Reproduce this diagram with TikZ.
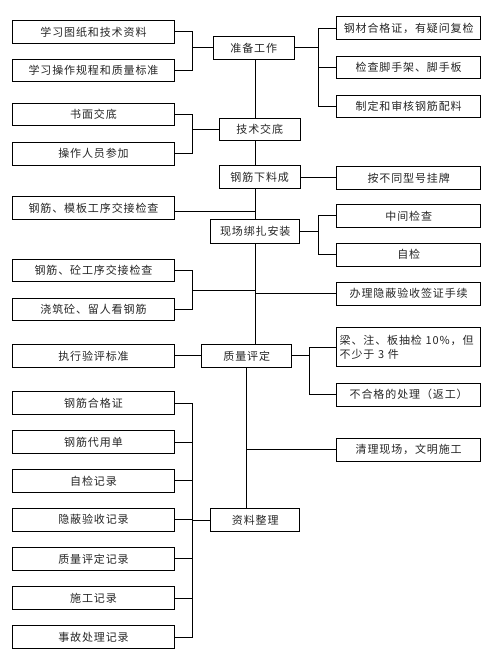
\documentclass[tikz,border=0pt]{standalone}
\usepackage{fontspec}
\newfontfamily\cjk[LetterSpace=8]{Noto Sans CJK SC}
\usetikzlibrary{calc}
\begin{document}
\begin{tikzpicture}[x=1pt,y=-1pt,
  box/.style={draw=black,line width=1pt,fill=white,inner sep=0pt,
    minimum height=22.6pt,font=\cjk\fontsize{11}{14}\selectfont,text=black!85},
  lbox/.style={box,minimum width=161.6pt},
  rbox/.style={box,minimum width=144pt},
  conn/.style={line width=1pt,draw=black}]
\useasboundingbox (0,0) rectangle (488,655);
\coordinate (sp) at (255,0);
% left column
\node[lbox] (L1) at (93.5,32) {学习图纸和技术资料};
\node[lbox] (L2) at (93.5,70.7) {学习操作规程和质量标准};
\node[lbox] (L3) at (93.5,114.7) {书面交底};
\node[lbox] (L4) at (93.5,153.8) {操作人员参加};
\node[lbox] (L5) at (93.5,207.8) {钢筋、模板工序交接检查};
\node[lbox] (L6) at (93.5,270.5) {钢筋、砼工序交接检查};
\node[lbox] (L7) at (93.5,309.5) {浇筑砼、留人看钢筋};
\node[lbox] (L8) at (93.5,355.8) {执行验评标准};
\node[lbox] (L9) at (93.5,403) {钢筋合格证};
\node[lbox] (L10) at (93.5,442) {钢筋代用单};
\node[lbox] (L11) at (93.5,480.8) {自检记录};
\node[lbox] (L12) at (93.5,519.7) {隐蔽验收记录};
\node[lbox] (L13) at (93.5,558.8) {质量评定记录};
\node[lbox] (L14) at (93.5,598) {施工记录};
\node[lbox] (L15) at (93.5,637) {事故处理记录};
% middle column
\node[box,minimum width=81pt] (M1) at (253.8,48) {准备工作};
\node[box,minimum width=80.7pt] (M2) at (259.7,129.7) {技术交底};
\node[box,minimum width=80.7pt] (M3) at (259.7,177.2) {钢筋下料成};
\node[box,minimum width=89.3pt,minimum height=24pt] (M4) at (255.3,231.3) {现场绑扎安装};
\node[box,minimum width=90pt] (M5) at (246.7,355.8) {质量评定};
\node[box,minimum width=89.3pt,minimum height=23.4pt] (M6) at (255.3,520) {资料整理};
% right column
\node[rbox] (R1) at (408.7,28.3) {钢材合格证，有疑问复检};
\node[rbox] (R2) at (408.7,67.7) {检查脚手架、脚手板};
\node[rbox] (R3) at (408.7,106.5) {制定和审核钢筋配料};
\node[rbox] (R4) at (408.7,178) {按不同型号挂牌};
\node[rbox] (R5) at (408.7,215.8) {中间检查};
\node[rbox] (R6) at (408.7,254.7) {自检};
\node[rbox] (R7) at (408.7,293.8) {办理隐蔽验收签证手续};
\node[rbox,minimum height=39.4pt,align=left,text width=138pt,inner xsep=3pt] (R8) at (408.7,347) {梁、注、板抽检 10\%，但\\不少于 3 件};
\node[rbox] (R9) at (408.7,394.7) {不合格的处理（返工）};
\node[rbox] (R10) at (408.7,449.7) {清理现场，文明施工};
\coordinate (j1) at ($(L6.east)!0.5!(L7.east)$);
% connectors
\draw[conn] (L1.east) -- ++(18,0) |- (M1.west);
\draw[conn] (L2.east) -- ++(18,0) |- (M1.west);
\draw[conn] (M1.east) -- ++(24,0) |- (R1.west);
\draw[conn] (M1.east) -- ++(24,0) |- (R2.west);
\draw[conn] (M1.east) -- ++(24,0) |- (R3.west);
\draw[conn] (M1.south -| sp) -- (M2.north -| sp);
\draw[conn] (L3.east) -- ++(18,0) |- (M2.west);
\draw[conn] (L4.east) -- ++(18,0) |- (M2.west);
\draw[conn] (M2.south -| sp) -- (M3.north -| sp);
\draw[conn] (M3.east) -- (R4.west |- M3.east);
\draw[conn] (M3.south -| sp) -- (M4.north -| sp);
\draw[conn] ([yshift=-3.5pt]L5.east) -- ([yshift=-3.5pt]L5.east -| sp);
\draw[conn] (M4.east) -- ++(18.3,0) |- (R5.west);
\draw[conn] (M4.east) -- ++(18.3,0) |- (R6.west);
\draw[conn] (M4.south -| sp) -- (M5.north -| sp);
\draw[conn] (L6.east) -- ++(18,0) |- (j1 -| sp);
\draw[conn] (L7.east) -- ++(18,0) |- (j1 -| sp);
\draw[conn] (R7.west) -- (R7.west -| sp);
\draw[conn] (L8.east) -- (M5.west);
\draw[conn] (M5.east) -- ++(17.6,0) |- (R8.west);
\draw[conn] (M5.east) -- ++(17.6,0) |- (R9.west);
\draw[conn] (M5.south) -- (M5.south |- M6.north);
\draw[conn] (R10.west) -- (R10.west -| M5.south);
\foreach \k in {9,...,15}{
  \draw[conn] (L\k.east) -- ++(18,0) |- (M6.west);
}
\end{tikzpicture}
\end{document}
